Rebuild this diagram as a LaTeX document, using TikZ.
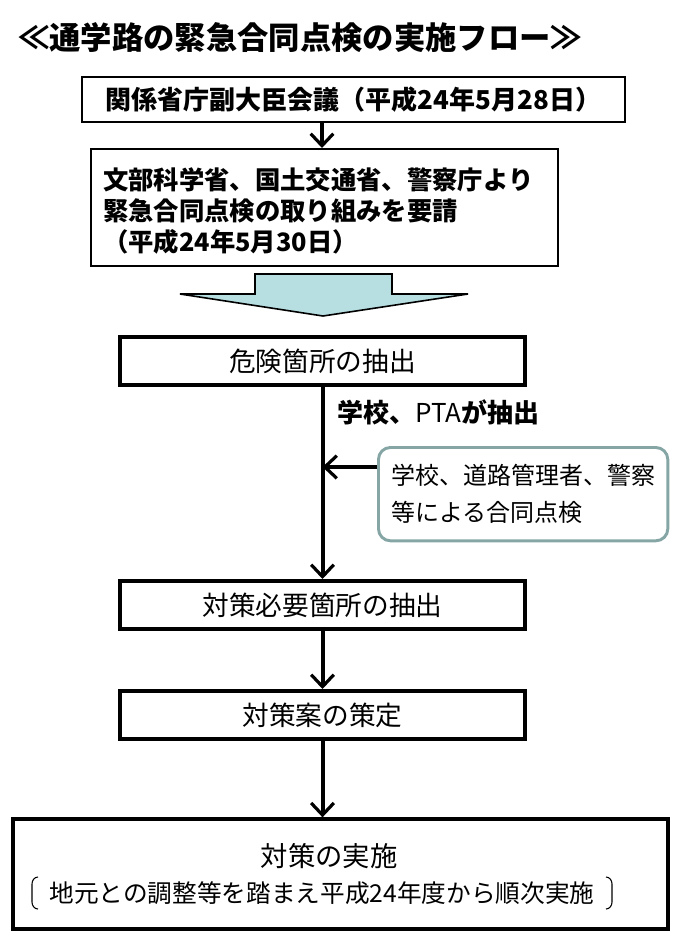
\documentclass[tikz,border=0pt]{standalone}
\usepackage{fontspec}
\setmainfont{Noto Sans CJK JP}
\usetikzlibrary{arrows.meta}
\begin{document}
\begin{tikzpicture}[x=0.75pt,y=-0.75pt,
  tbox/.style={draw=black,line width=3pt,minimum width=303.75pt,minimum height=36pt,font=\fontsize{20}{24}\selectfont},
  flow/.style={line width=3pt,-{Straight Barb[length=9pt,width=17pt,line width=2.4pt]}}]
\useasboundingbox (0,0) rectangle (683,936);
\node[anchor=west,font=\bfseries\fontsize{23.5}{28}\selectfont,inner sep=0pt] (title) at (18,38) {≪通学路の緊急合同点検の実施フロー≫};
\node[draw,line width=1.5pt,minimum width=407pt,minimum height=33.75pt,font=\bfseries\fontsize{19.5}{24}\selectfont] (b1) at (353.5,99.5) {関係省庁副大臣会議（平成24年5月28日）};
\node[draw,line width=1.5pt,minimum width=350pt,minimum height=87.75pt,anchor=north west,inner sep=0pt] (b2) at (90,148) {};
\node[anchor=west,align=left,font=\bfseries\fontsize{19}{23.5}\selectfont,inner sep=0pt] (b2t) at (103,211) {文部科学省、国土交通省、警察庁より\\緊急合同点検の取り組みを要請\\（平成24年5月30日）};
\draw[flow] (b1.south) ++(-31.5,0) coordinate (a1s) -- (a1s |- b2.north);
\draw[line width=1.2pt,fill={rgb,255:red,183;green,223;blue,226}] (255,274) -- (392,274) -- (392,294) -- (468,294) -- (323,316) -- (180,294) -- (255,294) -- cycle;
\node[tbox] (b3) at (322.5,361) {危険箇所の抽出};
\node[tbox] (b4) at (322.5,605) {対策必要箇所の抽出};
\node[tbox] (b5) at (322.5,715) {対策案の策定};
\node[draw,line width=3pt,minimum width=491pt,minimum height=82pt] (b6) at (340.5,874) {};
\node[font=\fontsize{20.5}{24}\selectfont] (b6a) at (329,856) {対策の実施};
\node[font=\fontsize{18.5}{23}\selectfont] (b6b) at (322,893) {地元との調整等を踏まえ平成24年度から順次実施};
\draw[line width=0.8pt] (38,877) to[out=180,in=90] (32,884) -- (32,902) to[out=-90,in=180] (38,909);
\draw[line width=0.8pt] (606,877) to[out=0,in=90] (612,884) -- (612,902) to[out=-90,in=0] (606,909);
\node[font=\fontsize{19.5}{24}\selectfont,anchor=west] (lab) at (333,412) {\textbf{学校、}PTA\textbf{が抽出}};
\node[draw={rgb,255:red,134;green,166;blue,166},line width=2.2pt,rounded corners=9pt,minimum width=217pt,minimum height=70pt,align=left,font=\fontsize{18}{28}\selectfont,anchor=north west,inner sep=6pt] (side) at (377,446) {学校、道路管理者、警察\\等による合同点検};
\draw[flow] (b3.south) -- (b4.north);
\coordinate (j) at (322.5,467);
\draw[flow] (side.west |- j) -- (j);
\draw[flow] (b4.south) -- (b5.north);
\draw[flow] (b5.south) -- (b5.south |- b6.north);
\end{tikzpicture}
\end{document}
